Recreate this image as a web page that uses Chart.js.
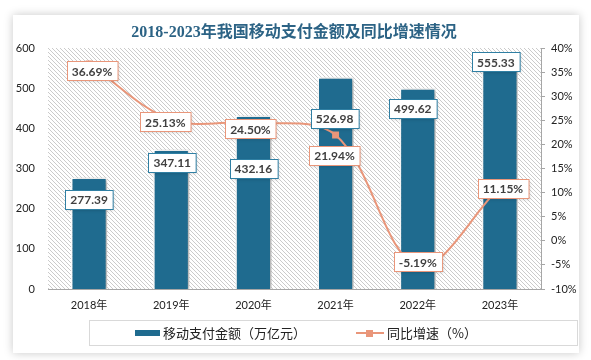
<!DOCTYPE html>
<html>
<head>
<meta charset="utf-8">
<script src="https://cdn.jsdelivr.net/npm/chart.js@4.4.1/dist/chart.umd.min.js"></script>
<style>
  body { margin: 0; background: #fff; }
  .card {
    position: absolute; left: 13px; top: 15px; width: 566px; height: 338px;
    background: #fff; box-shadow: 0 0 9px rgba(0, 0, 0, 0.22);
  }
  #chart { position: absolute; left: 0; top: 0; }
</style>
</head>
<body>
<div class="card"></div>
<canvas id="chart" width="591" height="360"></canvas>
<script>
const years = ["2018年", "2019年", "2020年", "2021年", "2022年", "2023年"];
const payAmount = [277.39, 347.11, 432.16, 526.98, 499.62, 555.33];
const growthRate = [36.69, 25.13, 24.50, 21.94, -5.19, 11.15];

const titleText = "2018-2023年我国移动支付金额及同比增速情况";
const barName = "移动支付金额（万亿元）";
const lineName = "同比增速（%）";

// label boxes were hand placed in the source, shift from the mark (px)
const barLabelShift = [[0, 22], [1, 13], [0, 53], [-1, 41], [-5, 20], [-4, -4]];
const rateLabelShift = [[3, 7], [-6, 2], [-3, 6], [-1, 20], [0, -4], [3, 1]];

const cbar = "#1f6b8f";
const cbarEdge = "#2f7fa3";
const cline = "#e9967a";
const ctext = "#404040";
const caxis = "#a6a6a6";
const ctitle = "#2c6385";

Chart.defaults.font.family = "Lato, 'Noto Sans CJK SC', sans-serif";
Chart.defaults.font.size = 11;
Chart.defaults.color = ctext;

// diagonal hatch for the plot area
const hatchCanvas = document.createElement("canvas");
hatchCanvas.width = 4;
hatchCanvas.height = 4;
const hctx = hatchCanvas.getContext("2d");
hctx.fillStyle = "#fff";
hctx.fillRect(0, 0, 4, 4);
hctx.fillStyle = "#cbcbcb";
for (let i = 0; i < 4; i++) hctx.fillRect(i, i, 1, 1);

function labelBox(ctx, text, cx, cy, edge) {
  ctx.font = "bold 12px Lato, sans-serif";
  const w = ctx.measureText(text).width + 10;
  const h = 19;
  const x = Math.round(cx - w / 2) + 0.5;
  const y = Math.round(cy - h / 2) + 0.5;
  ctx.save();
  ctx.shadowColor = "rgba(0,0,0,0.18)";
  ctx.shadowBlur = 3;
  ctx.shadowOffsetX = 1;
  ctx.shadowOffsetY = 1;
  ctx.fillStyle = "#fff";
  ctx.fillRect(x, y, w, h);
  ctx.restore();
  ctx.strokeStyle = edge;
  ctx.lineWidth = 1;
  ctx.strokeRect(x, y, w, h);
  ctx.fillStyle = ctext;
  ctx.textAlign = "center";
  ctx.textBaseline = "middle";
  ctx.fillText(text, cx, cy + 1);
}

const decor = {
  id: "decor",
  beforeDraw(chart) {
    const { ctx, chartArea: a } = chart;
    ctx.save();
    ctx.fillStyle = ctx.createPattern(hatchCanvas, "repeat");
    ctx.fillRect(a.left, a.top, a.right - a.left, a.bottom - a.top);
    ctx.restore();
  },
  beforeDatasetDraw(chart, args) {
    if (args.index !== 0) return;
    const ctx = chart.ctx;
    ctx.save();
    ctx.shadowColor = "rgba(0,0,0,0.35)";
    ctx.shadowBlur = 4;
    ctx.shadowOffsetX = 2;
    ctx.shadowOffsetY = 1;
  },
  afterDatasetDraw(chart, args) {
    if (args.index === 0) chart.ctx.restore();
  },
  afterDatasetsDraw(chart) {
    const ctx = chart.ctx;
    ctx.save();
    chart.getDatasetMeta(0).data.forEach((bar, i) => {
      const s = barLabelShift[i];
      labelBox(ctx, payAmount[i].toFixed(2), bar.x + s[0], bar.y + s[1], cbarEdge);
    });
    chart.getDatasetMeta(1).data.forEach((pt, i) => {
      const s = rateLabelShift[i];
      labelBox(ctx, growthRate[i].toFixed(2) + "%", pt.x + s[0], pt.y + s[1], cline);
    });
    ctx.restore();
  },
  afterDraw(chart) {
    const ctx = chart.ctx;
    ctx.save();
    // title
    ctx.font = "bold 16px 'Liberation Serif', 'Noto Sans CJK SC', serif";
    ctx.fillStyle = ctitle;
    ctx.textAlign = "center";
    ctx.textBaseline = "middle";
    ctx.fillText(titleText, 294, 33);

    // legend
    ctx.strokeStyle = "#d9d9d9";
    ctx.lineWidth = 1;
    ctx.strokeRect(89.5, 320.5, 488, 25);
    ctx.fillStyle = cbar;
    ctx.fillRect(135, 330, 25, 6);
    ctx.strokeStyle = cline;
    ctx.lineWidth = 2;
    ctx.beginPath();
    ctx.moveTo(356, 333);
    ctx.lineTo(384, 333);
    ctx.stroke();
    ctx.fillStyle = cline;
    ctx.fillRect(366, 330, 7, 7);
    ctx.fillStyle = "#222";
    ctx.textAlign = "left";
    ctx.font = "13px 'Noto Sans CJK SC', sans-serif";
    ctx.fillText(barName, 163, 333);
    ctx.fillText(lineName, 387, 333);
    ctx.restore();
  }
};

new Chart(document.getElementById("chart"), {
  data: {
    labels: years,
    datasets: [
      {
        type: "bar",
        label: barName,
        data: payAmount,
        backgroundColor: cbar,
        borderColor: "#fff",
        borderWidth: 1.5,
        barPercentage: 0.44,
        categoryPercentage: 1,
        yAxisID: "y",
        order: 1
      },
      {
        type: "line",
        label: lineName,
        data: growthRate,
        borderColor: cline,
        backgroundColor: cline,
        borderWidth: 2,
        tension: 0.35,
        pointStyle: "rect",
        pointRadius: 3.5,
        yAxisID: "y1",
        order: 0
      }
    ]
  },
  options: {
    responsive: false,
    animation: false,
    layout: { padding: { left: 12, right: 0, top: 48, bottom: 49 } },
    plugins: {
      legend: { display: false },
      title: { display: false },
      tooltip: { enabled: false }
    },
    scales: {
      x: {
        grid: { display: false, drawTicks: false },
        border: { display: true, color: caxis },
        ticks: { padding: 10, color: "#222" },
        afterFit: (s) => { s.height = 22; }
      },
      y: {
        position: "left",
        min: 0,
        max: 600,
        ticks: { stepSize: 100, padding: 13, color: "#222" },
        grid: { display: false, drawTicks: false },
        border: { display: false },
        afterFit: (s) => { s.width = 36; }
      },
      y1: {
        position: "right",
        min: -10,
        max: 40,
        ticks: { stepSize: 5, padding: 6, color: "#222", callback: (v) => v + "%" },
        grid: { drawOnChartArea: false, tickLength: 4, color: caxis },
        border: { display: true, color: caxis },
        afterFit: (s) => { s.width = 50; }
      }
    }
  },
  plugins: [decor]
});
</script>
</body>
</html>
